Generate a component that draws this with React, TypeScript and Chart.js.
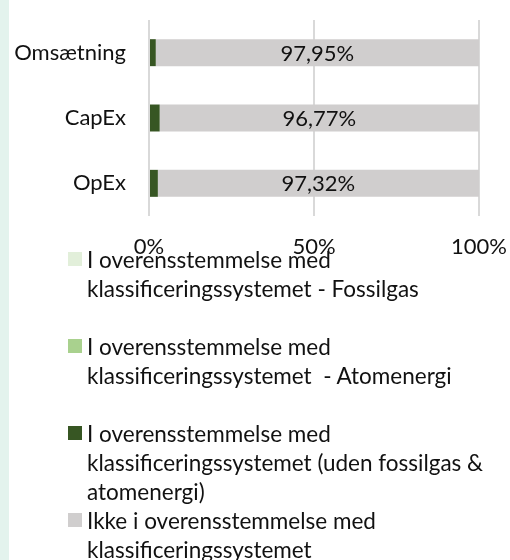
import React, { useEffect, useRef } from "react";
import { Chart, registerables } from "chart.js";

Chart.register(...registerables);

const categories = ["Omsætning", "CapEx", "OpEx"];
const fossilgas = [0, 0, 0];
const atomenergi = [0, 0, 0];
const aligned = [2.05, 3.23, 2.68];
const notAligned = [97.95, 96.77, 97.32];
const xTickValues = [0, 50, 100];

const seriesLabels: string[][] = [
  ["I overensstemmelse med", "klassificeringssystemet - Fossilgas"],
  ["I overensstemmelse med", "klassificeringssystemet  - Atomenergi"],
  ["I overensstemmelse med", "klassificeringssystemet (uden fossilgas &", "atomenergi)"],
  ["Ikke i overensstemmelse med", "klassificeringssystemet"],
];
const seriesColors = ["#e2efda", "#a9d18e", "#375623", "#d0cece"];

const FONT = "Lato, 'Open Sans', sans-serif";
const TEXT = "#111111";
const SIZE = 22;

const valueLabelPlugin = {
  id: "valueLabels",
  afterDatasetsDraw(chart: any) {
    const ctx = chart.ctx;
    const dsIndex = 3;
    const meta = chart.getDatasetMeta(dsIndex);
    const data = chart.data.datasets[dsIndex].data as number[];
    ctx.save();
    ctx.font = `${SIZE}px ${FONT}`;
    ctx.fillStyle = TEXT;
    ctx.textAlign = "center";
    ctx.textBaseline = "middle";
    meta.data.forEach((el: any, i: number) => {
      const c = el.getCenterPoint();
      ctx.fillText(data[i].toFixed(2).replace(".", ",") + "%", c.x, c.y + 1);
    });
    ctx.restore();
  },
};

export default function App() {
  const ref = useRef<HTMLCanvasElement>(null);
  useEffect(() => {
    if (!ref.current) return;
    const values = [fossilgas, atomenergi, aligned, notAligned];
    const chart = new Chart(ref.current, {
      type: "bar",
      data: {
        labels: categories,
        datasets: values.map((v, i) => ({
          label: seriesLabels[i].join(" "),
          data: v,
          backgroundColor: seriesColors[i],
          borderWidth: 0,
          barPercentage: 0.413,
          categoryPercentage: 1,
        })),
      },
      options: {
        indexAxis: "y",
        responsive: false,
        animation: false,
        layout: { padding: { top: 20, right: 31, left: 0, bottom: 0 } },
        plugins: { legend: { display: false }, tooltip: { enabled: false } },
        scales: {
          x: {
            stacked: true,
            min: 0,
            max: 100,
            afterBuildTicks: (s: any) => {
              s.ticks = xTickValues.map((v) => ({ value: v }));
            },
            afterFit: (s: any) => {
              s.height = 49;
              s.paddingLeft = 0;
              s.paddingRight = 0;
            },
            grid: { color: "#d9d9d9", lineWidth: 2, drawTicks: false },
            border: { display: false },
            ticks: {
              padding: 18,
              color: TEXT,
              font: { family: FONT, size: SIZE },
              callback: (v: any) => v + "%",
              maxRotation: 0,
            },
          },
          y: {
            stacked: true,
            afterFit: (s: any) => {
              s.width = 140;
              s.paddingTop = 0;
              s.paddingBottom = 0;
            },
            grid: { display: false, drawTicks: false },
            border: { display: false },
            ticks: { padding: 23, color: TEXT, font: { family: FONT, size: SIZE } },
          },
        },
      },
      plugins: [valueLabelPlugin],
    });
    return () => chart.destroy();
  }, []);

  return (
    <div style={{ position: "absolute", left: 0, top: 0, width: 510, height: 560, background: "#fff", overflow: "hidden" }}>
      <div style={{ position: "absolute", left: 0, top: 0, width: 9, height: 560, background: "#e3f3ed" }} />
      <canvas ref={ref} width={501} height={265} style={{ position: "absolute", left: 9, top: 0 }} />
      <div style={{ position: "absolute", left: 68, top: 245, fontFamily: FONT, fontSize: 22.5, color: TEXT }}>
        {seriesLabels.map((lines, i) => (
          <div key={i} style={{ position: "relative", height: 87, lineHeight: "29px", paddingLeft: 19 }}>
            <span style={{ position: "absolute", left: 0, top: 7, width: 14, height: 14, background: seriesColors[i] }} />
            {lines.map((l, j) => (
              <div key={j} style={{ whiteSpace: "pre" }}>{l}</div>
            ))}
          </div>
        ))}
      </div>
    </div>
  );
}
